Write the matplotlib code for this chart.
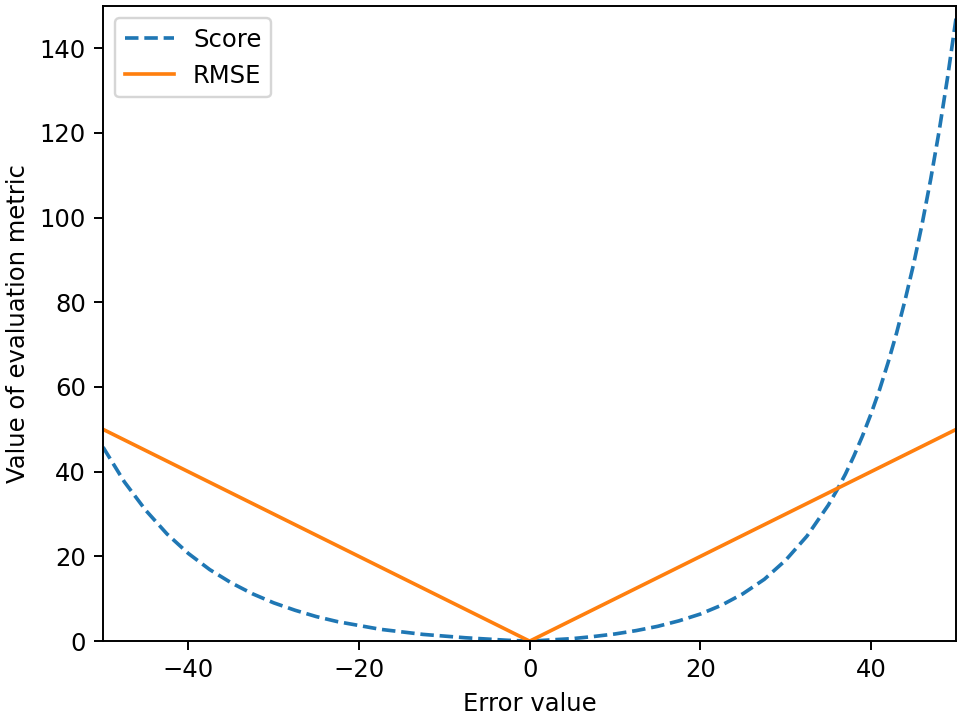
import matplotlib
matplotlib.use('Agg')
import matplotlib.pyplot as plt

# error values and metric values
err = [-50, -47.5, -45, -42.5, -40, -37.5, -35, -32.5, -30, -27.5, -25,
       -22.5, -20, -17.5, -15, -12.5, -10, -7.5, -5, -2.5, 0,
       2.5, 5, 7.5, 10, 12.5, 15, 17.5, 20, 22.5, 25,
       27.5, 30, 32.5, 35, 36, 37, 38, 39, 40, 41, 42, 43, 44, 45,
       46, 47, 48, 49, 50]
score = [45.8, 37.6, 30.9, 25.3, 20.7, 16.9, 13.8, 11.2, 9.05, 7.3, 5.8,
         4.6, 3.7, 2.8, 2.2, 1.6, 1.2, 0.8, 0.5, 0.2, 0.0,
         0.3, 0.6, 1.1, 1.7, 2.5, 3.5, 4.8, 6.4, 8.5, 11.2,
         14.6, 19.1, 24.8, 32.1, 35.6, 39.4, 43.7, 48.4, 53.6, 59.3, 65.7,
         72.7, 80.5, 89.0, 98.5, 109.0, 120.5, 133.3, 147.4]
rmse_err = [-50, 0, 50]
rmse = [50, 0, 50]

DPI = 175
fig = plt.figure(figsize=(963 / DPI, 714 / DPI), dpi=DPI)
ax = fig.add_subplot(111)
fig.subplots_adjust(left=0.107, right=0.993, bottom=0.102, top=0.992)

ax.plot(err, score, '--', label='Score')
ax.plot(rmse_err, rmse, '-', label='RMSE')

ax.set_xlim(-50, 50)
ax.set_ylim(0, 150)
ax.set_xlabel('Error value')
ax.set_ylabel('Value of evaluation metric')
ax.legend(loc='upper left')

fig.savefig('out.png', dpi=DPI)
